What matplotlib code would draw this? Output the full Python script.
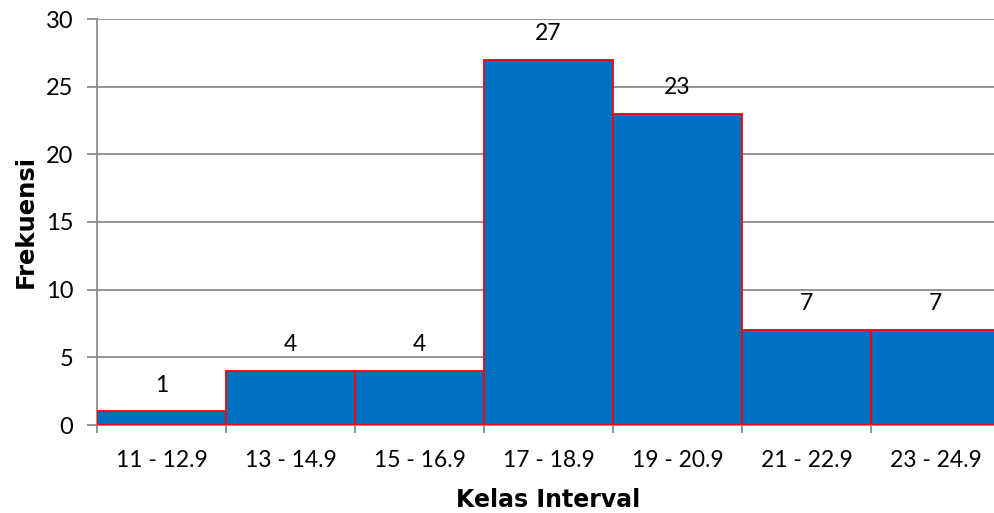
import matplotlib
matplotlib.use("Agg")
import matplotlib.pyplot as plt

categories = ["11 - 12.9", "13 - 14.9", "15 - 16.9", "17 - 18.9", "19 - 20.9", "21 - 22.9", "23 - 24.9"]
frequencies = [1, 4, 4, 27, 23, 7, 7]

plt.rcParams['font.family'] = ['Lato', 'DejaVu Sans']

fig = plt.figure(figsize=(9.95, 5.13), dpi=100)
ax = fig.add_axes([97/995, 88/513, 903/995, 406/513])

x = list(range(len(categories)))
ax.bar(x, frequencies, width=1.0, color="#0070C0", edgecolor="#FF0000", linewidth=1.3, zorder=3)

for xi, v in zip(x, frequencies):
    ax.annotate(str(v), (xi, v), xytext=(0, 19), textcoords="offset points",
                ha="center", va="center", fontsize=16.5, color="black")

ax.set_xlim(-0.5, len(categories) - 0.5)
ax.set_ylim(0, 30)
ax.set_yticks(range(0, 31, 5))
ax.yaxis.grid(True, color="#8c8c8c", linewidth=1.3, zorder=0)
ax.set_axisbelow(True)

ax.set_xticks(x)
ax.set_xticklabels(categories, fontsize=16.5)
ax.set_xticks([i - 0.5 for i in range(len(categories) + 1)], minor=True)
ax.tick_params(axis="x", which="major", length=0, pad=18)
ax.tick_params(axis="x", which="minor", length=6, color="#8c8c8c", width=1.3, direction="out")
ax.tick_params(axis="y", labelsize=17, length=7, color="#8c8c8c", width=1.3, pad=10)

for s in ["top", "right"]:
    ax.spines[s].set_visible(False)
for s in ["left", "bottom"]:
    ax.spines[s].set_color("#8c8c8c")
    ax.spines[s].set_linewidth(1.3)

ax.set_ylabel("Frekuensi", fontsize=17.5, fontweight="bold", family="DejaVu Sans", labelpad=6)
ax.set_xlabel("Kelas Interval", fontsize=17, fontweight="bold", family="DejaVu Sans", labelpad=12)

fig.savefig("out.png", dpi=100)
